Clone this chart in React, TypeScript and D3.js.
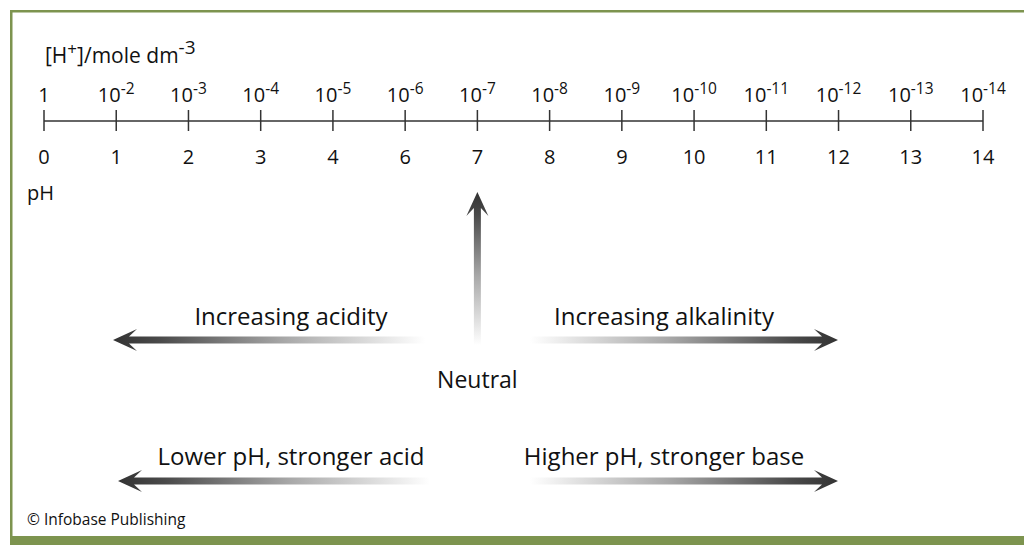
import React from "react";
import * as d3 from "d3";

// [H+] tick labels (base, exponent) -- as printed on the original scale
const hBase = ["1", "10", "10", "10", "10", "10", "10", "10", "10", "10", "10", "10", "10", "10"];
const hExp = ["", "-2", "-3", "-4", "-5", "-6", "-7", "-8", "-9", "-10", "-11", "-12", "-13", "-14"];
// pH tick labels as printed
const phLabels = ["0", "1", "2", "3", "4", "6", "7", "8", "9", "10", "11", "12", "13", "14"];

const arrowTexts = ["Increasing acidity", "Increasing alkalinity"];
const lowerTexts = ["Lower pH, stronger acid", "Higher pH, stronger base"];

const W = 1024;
const H = 545;
const FONT = "'Open Sans', 'Noto Sans', sans-serif";
const GREEN = "#7d944f";

// arrow shape pointing to +x, tip at 0, tail at -len
function arrowPath(len: number) {
  const hl = 24, hw = 11, sw = 3.5, notch = 16;
  return `M0,0 L${-hl},${-hw} L${-notch},${-sw} L${-len},${-sw} L${-len},${sw} L${-notch},${sw} L${-hl},${hw} Z`;
}

function Arrow({ id, x1, y1, x2, y2 }: { id: string; x1: number; y1: number; x2: number; y2: number }) {
  // x1,y1 tail ; x2,y2 tip
  const len = Math.hypot(x2 - x1, y2 - y1);
  const ang = (Math.atan2(y2 - y1, x2 - x1) * 180) / Math.PI;
  return (
    <g>
      <defs>
        <linearGradient id={id} gradientUnits="userSpaceOnUse" x1={-len} y1={0} x2={0} y2={0}>
          <stop offset="0" stopColor="#ffffff" />
          <stop offset="0.45" stopColor="#a8a8a8" />
          <stop offset="0.85" stopColor="#4a4a4a" />
          <stop offset="1" stopColor="#333333" />
        </linearGradient>
      </defs>
      <path transform={`translate(${x2},${y2}) rotate(${ang})`} d={arrowPath(len)} fill={`url(#${id})`} />
    </g>
  );
}

export default function App() {
  const x = d3
    .scalePoint<number>()
    .domain(d3.range(hBase.length))
    .range([44, 983]);
  const axisY = 121;

  return (
    <svg width={W} height={H} style={{ position: "absolute", left: 0, top: 0, background: "#fff" }} fontFamily={FONT}>
      <rect x={0} y={0} width={W} height={H} fill="#fff" />
      {/* frame */}
      <rect x={10} y={10} width={W - 10} height={2.5} fill={GREEN} />
      <rect x={10} y={10} width={2.5} height={530} fill={GREEN} />
      <rect x={10} y={536} width={W - 10} height={9} fill={GREEN} />

      {/* title */}
      <text x={45} y={63} fontSize={21} fill="#111">
        [H<tspan fontSize={17} dy={-8}>+</tspan>
        <tspan dy={8}>]/mole dm</tspan>
        <tspan fontSize={19} dy={-9}>-3</tspan>
      </text>

      {/* axis */}
      <line x1={x(0)} x2={x(hBase.length - 1)} y1={axisY} y2={axisY} stroke="#333" strokeWidth={1.5} />
      {hBase.map((b, i) => (
        <g key={i}>
          <line x1={x(i)} x2={x(i)} y1={axisY - 11} y2={axisY + 10} stroke="#333" strokeWidth={1.5} />
          <text x={x(i)} y={102} fontSize={20} textAnchor="middle" fill="#111">
            {b}
            {hExp[i] && (
              <tspan fontSize={15.5} dy={-8}>
                {hExp[i]}
              </tspan>
            )}
          </text>
          <text x={x(i)} y={164} fontSize={20} textAnchor="middle" fill="#111">
            {phLabels[i]}
          </text>
        </g>
      ))}
      <text x={27} y={200} fontSize={20} fill="#111">pH</text>

      {/* neutral arrow */}
      <Arrow id="gv" x1={x(6)!} y1={345} x2={x(6)!} y2={192} />
      <text x={x(6)} y={388} fontSize={23} textAnchor="middle" fill="#111">Neutral</text>

      {/* upper arrows */}
      <Arrow id="ga1" x1={425} y1={340} x2={113} y2={340} />
      <Arrow id="ga2" x1={530} y1={340} x2={838} y2={340} />
      <text x={291} y={325} fontSize={24} textAnchor="middle" fill="#111">{arrowTexts[0]}</text>
      <text x={664} y={325} fontSize={24} textAnchor="middle" fill="#111">{arrowTexts[1]}</text>

      {/* lower arrows */}
      <Arrow id="gb1" x1={430} y1={481} x2={118} y2={481} />
      <Arrow id="gb2" x1={530} y1={481} x2={838} y2={481} />
      <text x={291} y={465} fontSize={24} textAnchor="middle" fill="#111">{lowerTexts[0]}</text>
      <text x={664} y={465} fontSize={24} textAnchor="middle" fill="#111">{lowerTexts[1]}</text>

      <text x={27} y={525} fontSize={15.5} fill="#111">© Infobase Publishing</text>
    </svg>
  );
}
